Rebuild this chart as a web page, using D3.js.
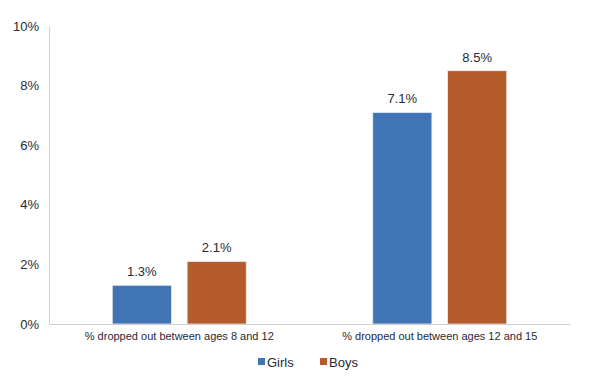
<!DOCTYPE html>
<html>
<head>
<meta charset="utf-8">
<script src="https://cdn.jsdelivr.net/npm/d3@7"></script>
<style>
  body { margin: 0; background: #fff; }
  svg { font-family: "Liberation Sans", Arial, sans-serif; }
</style>
</head>
<body>
<div id="chart"></div>
<script>
// Data
const categories = ["% dropped out between ages 8 and 12", "% dropped out between ages 12 and 15"];
const seriesNames = ["Girls", "Boys"];
const girls = [1.3, 7.1];
const boys = [2.1, 8.5];
const yTicks = [0, 2, 4, 6, 8, 10];
const colors = ["#4174b4", "#b65c2a"];

const drawChart = (containerId) => {
    const width = 602;
    const height = 378;
    const margin = { top: 26, right: 32, bottom: 54, left: 49 };
    const innerWidth = width - margin.left - margin.right;
    const innerHeight = height - margin.top - margin.bottom;

    const data = categories.map((c, i) => ({ category: c, values: [girls[i], boys[i]] }));

    const xScale = d3.scaleBand()
        .domain(categories)
        .range([0, innerWidth])
        .padding(0);

    const groupWidth = 134;
    const xInner = d3.scaleBand()
        .domain(seriesNames)
        .range([0, groupWidth])
        .paddingInner(0.21);

    const yScale = d3.scaleLinear()
        .domain([0, 10])
        .range([innerHeight, 0]);

    const svg = d3.select(containerId)
        .append("svg")
        .attr("width", width)
        .attr("height", height);

    const innerChart = svg.append("g")
        .attr("transform", `translate(${margin.left},${margin.top})`);

    // Y axis labels
    const leftAxis = d3.axisLeft(yScale)
        .tickValues(yTicks)
        .tickSize(0)
        .tickPadding(10)
        .tickFormat(d => d + "%");
    const yAxis = innerChart.append("g").call(leftAxis);
    yAxis.select(".domain").attr("stroke", "#d0d0d0");
    yAxis.selectAll("text")
        .attr("font-size", 13)
        .attr("fill", "#1f2a36")
        .attr("font-family", "Liberation Sans, Arial, sans-serif");

    // Bars
    const groups = innerChart.selectAll(".group")
        .data(data)
        .enter()
        .append("g")
        .attr("transform", d => `translate(${xScale(d.category) + (xScale.bandwidth() - groupWidth) / 2},0)`);

    groups.selectAll("rect")
        .data(d => d.values.map((v, i) => ({ name: seriesNames[i], value: v, i })))
        .enter()
        .append("rect")
        .attr("x", d => xInner(d.name))
        .attr("y", d => yScale(d.value))
        .attr("width", xInner.bandwidth())
        .attr("height", d => innerHeight - yScale(d.value))
        .attr("fill", d => colors[d.i])
        .attr("stroke", "#e8eef5")
        .attr("stroke-width", 0.8);

    groups.selectAll(".label")
        .data(d => d.values.map((v, i) => ({ name: seriesNames[i], value: v })))
        .enter()
        .append("text")
        .attr("x", d => xInner(d.name) + xInner.bandwidth() / 2)
        .attr("y", d => yScale(d.value) - 9)
        .attr("text-anchor", "middle")
        .attr("font-size", 13)
        .attr("fill", "#1f2a36")
        .text(d => d.value.toFixed(1) + "%");

    // X axis
    const bottomAxis = d3.axisBottom(xScale).tickSize(0).tickPadding(8);
    const xAxis = innerChart.append("g")
        .attr("transform", `translate(0,${innerHeight})`)
        .call(bottomAxis);
    xAxis.select(".domain").attr("stroke", "#d0d0d0");
    xAxis.selectAll("text")
        .attr("font-size", 11)
        .attr("fill", "#1f2a36")
        .attr("font-family", "Liberation Sans, Arial, sans-serif");

    // Legend
    const legend = svg.append("g").attr("transform", "translate(258,362)");
    const legendX = [0, 62];
    seriesNames.forEach((name, i) => {
        const item = legend.append("g").attr("transform", `translate(${legendX[i]},0)`);
        item.append("rect")
            .attr("x", 0)
            .attr("y", -4)
            .attr("width", 7)
            .attr("height", 7)
            .attr("fill", colors[i]);
        item.append("text")
            .attr("x", 9)
            .attr("y", 0)
            .attr("dy", "0.35em")
            .attr("font-size", 13)
            .attr("fill", "#1f2a36")
            .text(name);
    });
};

drawChart("#chart");
</script>
</body>
</html>
